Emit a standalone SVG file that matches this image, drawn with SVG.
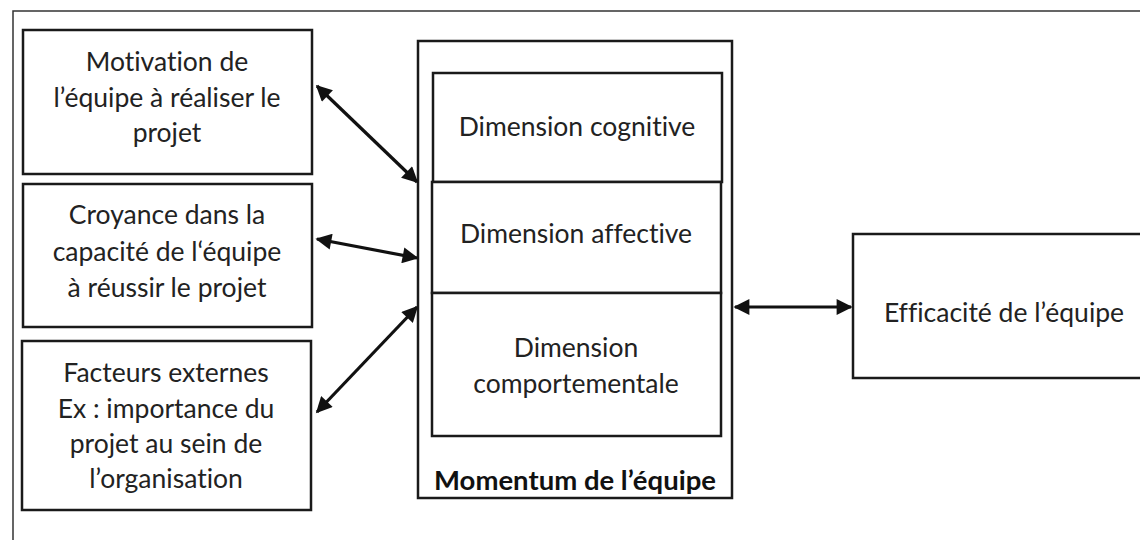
<svg xmlns="http://www.w3.org/2000/svg" width="1140" height="540" viewBox="0 0 1140 540">
  <style>
    .box { fill: #fff; stroke: #1a1a1a; stroke-width: 2.5; }
    .frame { fill: none; stroke: #333; stroke-width: 1.5; }
    .lbl { font-family: Lato, "Open Sans", sans-serif; font-size: 26.5px; fill: #222; text-anchor: middle; dominant-baseline: central; font-variant-ligatures: none; }
    .bold { font-weight: bold; fill: #111; font-size: 27.5px; }
    .link { stroke: #111; stroke-width: 3.2; fill: none; marker-start: url(#head); marker-end: url(#head); }
  </style>
  <defs>
    <marker id="head" viewBox="0 0 10 10" refX="9" refY="5" markerWidth="5.5" markerHeight="5" orient="auto-start-reverse" markerUnits="strokeWidth">
      <path d="M0,0 L10,5 L0,10 z" fill="#111"/>
    </marker>
  </defs>

  <!-- outer frame, open to the right and bottom -->
  <rect class="frame" x="13" y="11" width="1140" height="540"/>

  <g id="motivation">
    <rect class="box" x="23" y="30" width="289" height="144"/>
    <text class="lbl" x="167" y="61">Motivation de</text>
    <text class="lbl" x="167" y="97">l’équipe à réaliser le</text>
    <text class="lbl" x="167" y="132">projet</text>
  </g>

  <g id="croyance">
    <rect class="box" x="23" y="184" width="289" height="143"/>
    <text class="lbl" x="167" y="214">Croyance dans la</text>
    <text class="lbl" x="167" y="251">capacité de l‘équipe</text>
    <text class="lbl" x="167" y="287">à réussir le projet</text>
  </g>

  <g id="facteurs">
    <rect class="box" x="22" y="341" width="289" height="169"/>
    <text class="lbl" x="166" y="372">Facteurs externes</text>
    <text class="lbl" x="166" y="408">Ex : importance du</text>
    <text class="lbl" x="166" y="443">projet au sein de</text>
    <text class="lbl" x="166" y="478">l’organisation</text>
  </g>

  <g id="momentum">
    <rect class="box" x="418" y="41" width="314" height="457"/>
    <text class="lbl bold" x="575" y="479">Momentum de l’équipe</text>
  </g>

  <g id="cognitive">
    <rect class="box" x="433" y="73" width="289" height="109"/>
    <text class="lbl" x="577" y="126">Dimension cognitive</text>
  </g>

  <g id="affective">
    <rect class="box" x="432" y="182" width="289" height="111"/>
    <text class="lbl" x="576" y="233">Dimension affective</text>
  </g>

  <g id="comportementale">
    <rect class="box" x="432" y="293" width="289" height="143"/>
    <text class="lbl" x="576" y="347">Dimension</text>
    <text class="lbl" x="576" y="383">comportementale</text>
  </g>

  <g id="efficacite">
    <rect class="box" x="853" y="234" width="300" height="144"/>
    <text class="lbl" x="1004" y="312">Efficacité de l’équipe</text>
  </g>

  <g id="connectors">
    <line class="link" x1="317" y1="86" x2="417" y2="182"/>
    <line class="link" x1="317" y1="239" x2="417" y2="258"/>
    <line class="link" x1="317" y1="412" x2="417" y2="307"/>
    <line class="link" x1="735" y1="307" x2="851" y2="307"/>
  </g>
</svg>
